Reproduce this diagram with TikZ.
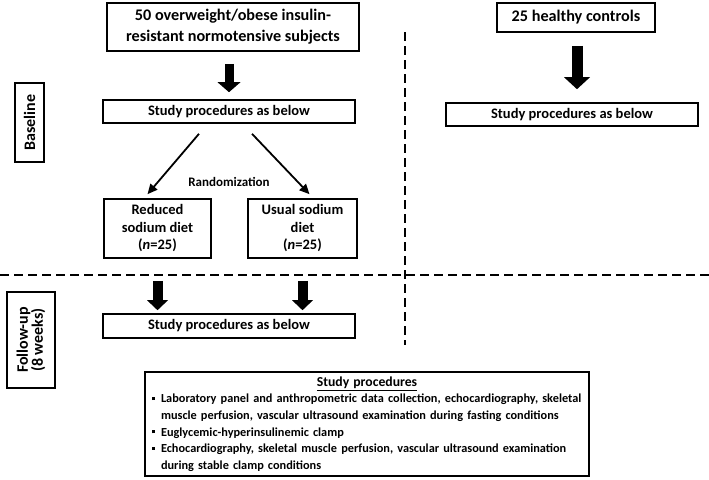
\documentclass[tikz,border=0pt]{standalone}
\usepackage{fontspec}
\setmainfont{Carlito}
\usetikzlibrary{arrows.meta}

\newcommand{\procitem}[1]{\par\hangindent=14pt\hangafter=1\noindent\makebox[14pt][l]{\hspace{5pt}\raisebox{2.8pt}{\rule{3pt}{3pt}}}#1}

\begin{document}
\begin{tikzpicture}[x=1pt, y=-1pt,
  every node/.style={font=\bfseries, inner sep=0pt},
  box/.style={draw, line width=1.6pt, align=center},
  bigText/.style={font=\bfseries\fontsize{16.2}{21}\selectfont},
  smallText/.style={font=\bfseries\fontsize{14.5}{16}\selectfont},
  sideLabel/.style={draw, line width=1.6pt, rotate=90, align=center, font=\bfseries\fontsize{16}{15}\selectfont},
  blockArrow/.style={line width=9pt, -{Triangle[width=23pt,length=10pt,line width=0pt]}},
  thinArrow/.style={line width=1.8pt, -{Triangle[width=9pt,length=10pt]}},
  divider/.style={line width=2.4pt, dash pattern=on 9pt off 5pt}]
\useasboundingbox (0,0) rectangle (709,479);

% baseline, patients
\node[box, bigText, minimum width=252, minimum height=48] (patients) at (233,27) {50 overweight/obese insulin-\\resistant normotensive subjects};
\node[box, smallText, minimum width=252, minimum height=23] (spBase) at (229,111.5) {Study procedures as below};
\node[box, font=\bfseries\fontsize{14.5}{17.5}\selectfont, minimum width=107, minimum height=59] (reduced) at (157.5,228.5) {Reduced\\sodium diet\\(\textit{n}=25)};
\node[box, font=\bfseries\fontsize{14.5}{17.5}\selectfont, minimum width=109, minimum height=59] (usual) at (302.5,228.5) {Usual sodium\\diet\\(\textit{n}=25)};
\node[font=\bfseries\fontsize{13}{14}\selectfont] (random) at (229,182) {Randomization};

% baseline, controls
\node[box, bigText, minimum width=158, minimum height=29] (controls) at (576,17.5) {25 healthy controls};
\node[box, smallText, minimum width=252, minimum height=23] (spCtrl) at (572,114.5) {Study procedures as below};

% follow-up
\node[box, smallText, minimum width=252, minimum height=24] (spFollow) at (229,326) {Study procedures as below};

% side labels
\node[sideLabel, minimum width=79, minimum height=29] (baseline) at (29.5,122.5) {Baseline};
\node[sideLabel, minimum width=96, minimum height=48] (followup) at (31,340) {Follow-up\\(8 weeks)};

% procedures legend
\node[draw, line width=1.6pt, inner xsep=2pt, minimum width=444, minimum height=104, text width=440, font=\bfseries\fontsize{12.3}{16.6}\selectfont] (legend) at (367,424) {%
  \centering{\fontsize{13.7}{16.6}\selectfont\underline{Study procedures}}\par\raggedright
  \procitem{\mbox{Laboratory panel and anthropometric data collection, echocardiography, skeletal}\newline \mbox{muscle perfusion, vascular ultrasound examination during fasting conditions}}
  \procitem{Euglycemic-hyperinsulinemic clamp}
  \procitem{\mbox{Echocardiography, skeletal muscle perfusion, vascular ultrasound examination}\newline during stable clamp conditions}\par};

% arrows
\draw[blockArrow, shorten <=12pt, shorten >=7pt] (patients.south -| spBase.north) -- (spBase.north);
\draw[line width=11pt, -{Triangle[width=26pt,length=12pt,line width=0pt]}, shorten <=13pt, shorten >=13pt] (controls.south -| 577,0) -- (spCtrl.north -| 577,0);
\draw[thinArrow] ([xshift=-30pt,yshift=-10pt]spBase.south) -- ([xshift=-10pt,yshift=4pt]reduced.north);
\draw[thinArrow] ([xshift=23pt,yshift=-10pt]spBase.south) -- ([xshift=7pt,yshift=4pt]usual.north);
\draw[blockArrow, line width=10pt, -{Triangle[width=21pt,length=10pt,line width=0pt]}, shorten <=22pt, shorten >=3pt] (reduced.south) -- (reduced.south |- spFollow.north);
\draw[blockArrow, line width=10pt, -{Triangle[width=21pt,length=10pt,line width=0pt]}, shorten <=22pt, shorten >=3pt] (usual.south) -- (usual.south |- spFollow.north);

% dividers
\draw[divider] (0,275) -- (709,275);
\draw[divider] (405,32) -- (405,345);
\end{tikzpicture}
\end{document}
